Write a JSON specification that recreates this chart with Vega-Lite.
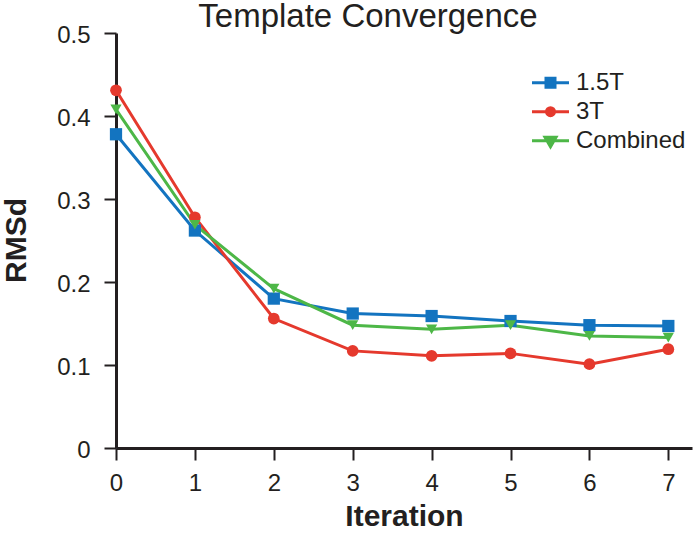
{
  "$schema": "https://vega.github.io/schema/vega-lite/v6.json",
  "width": 576,
  "height": 415,
  "autosize": "none",
  "padding": {"left": 116, "top": 33, "right": 4, "bottom": 85},
  "background": "white",
  "title": {
    "text": "Template Convergence",
    "font": "Liberation Sans",
    "fontSize": 33,
    "fontWeight": "normal",
    "color": "#231f20",
    "anchor": "middle",
    "frame": "group",
    "baseline": "alphabetic",
    "offset": 6,
    "dx": -36,
    "dy": 43
  },
  "data": {
    "values": [
      {"it": 0, "s": "1.5T", "v": 0.378},
      {"it": 1, "s": "1.5T", "v": 0.262},
      {"it": 2, "s": "1.5T", "v": 0.180},
      {"it": 3, "s": "1.5T", "v": 0.162},
      {"it": 4, "s": "1.5T", "v": 0.159},
      {"it": 5, "s": "1.5T", "v": 0.153},
      {"it": 6, "s": "1.5T", "v": 0.148},
      {"it": 7, "s": "1.5T", "v": 0.147},
      {"it": 0, "s": "3T", "v": 0.431},
      {"it": 1, "s": "3T", "v": 0.278},
      {"it": 2, "s": "3T", "v": 0.156},
      {"it": 3, "s": "3T", "v": 0.117},
      {"it": 4, "s": "3T", "v": 0.111},
      {"it": 5, "s": "3T", "v": 0.114},
      {"it": 6, "s": "3T", "v": 0.101},
      {"it": 7, "s": "3T", "v": 0.119},
      {"it": 0, "s": "Combined", "v": 0.408},
      {"it": 1, "s": "Combined", "v": 0.269},
      {"it": 2, "s": "Combined", "v": 0.192},
      {"it": 3, "s": "Combined", "v": 0.148},
      {"it": 4, "s": "Combined", "v": 0.143},
      {"it": 5, "s": "Combined", "v": 0.148},
      {"it": 6, "s": "Combined", "v": 0.135},
      {"it": 7, "s": "Combined", "v": 0.133}
    ]
  },
  "encoding": {
    "x": {
      "field": "it",
      "type": "quantitative",
      "scale": {"domain": [0, 7.3], "nice": false, "zero": false},
      "axis": {
        "title": "Iteration",
        "values": [0, 1, 2, 3, 4, 5, 6, 7],
        "format": "d",
        "grid": false,
        "domainColor": "#231f20",
        "domainWidth": 3,
        "tickColor": "#231f20",
        "tickWidth": 2,
        "tickSize": 12,
        "labelFont": "Liberation Sans",
        "labelFontSize": 24,
        "labelColor": "#231f20",
        "labelPadding": 11,
        "labelBaseline": "top",
        "labelFlush": false,
        "titleFont": "Liberation Sans",
        "titleFontSize": 30,
        "titleFontWeight": "bold",
        "titleColor": "#231f20",
        "titleX": 288,
        "titleY": 77,
        "titleAlign": "center",
        "titleBaseline": "alphabetic"
      }
    },
    "y": {
      "field": "v",
      "type": "quantitative",
      "scale": {"domain": [0, 0.5], "nice": false},
      "axis": {
        "title": "RMSd",
        "values": [0, 0.1, 0.2, 0.3, 0.4, 0.5],
        "format": "~g",
        "grid": false,
        "domainColor": "#231f20",
        "domainWidth": 3,
        "tickColor": "#231f20",
        "tickWidth": 2,
        "tickSize": 12,
        "labelFont": "Liberation Sans",
        "labelFontSize": 24,
        "labelColor": "#231f20",
        "labelPadding": 14,
        "labelBaseline": "middle",
        "labelOffset": 2,
        "labelFlush": false,
        "titleFont": "Liberation Sans",
        "titleFontSize": 30,
        "titleFontWeight": "bold",
        "titleColor": "#231f20",
        "titleAngle": -90,
        "titleX": -91,
        "titleY": 207,
        "titleAlign": "center",
        "titleBaseline": "alphabetic"
      }
    }
  },
  "layer": [
    {
      "mark": {"type": "line", "strokeWidth": 3},
      "encoding": {
        "color": {
          "field": "s",
          "type": "nominal",
          "scale": {"domain": ["1.5T", "3T", "Combined"], "range": ["#1374c0", "#e5392d", "#4db747"]},
          "legend": null
        }
      }
    },
    {
      "mark": {"type": "point", "filled": true, "opacity": 1},
      "encoding": {
        "color": {
          "field": "s",
          "type": "nominal",
          "scale": {"domain": ["1.5T", "3T", "Combined"], "range": ["#1374c0", "#e5392d", "#4db747"]},
          "legend": null
        },
        "shape": {
          "field": "s",
          "type": "nominal",
          "scale": {"domain": ["1.5T", "3T", "Combined"], "range": ["square", "circle", "triangle-down"]},
          "legend": null
        },
        "size": {
          "field": "s",
          "type": "nominal",
          "scale": {"domain": ["1.5T", "3T", "Combined"], "range": [150, 125, 210]},
          "legend": null
        }
      }
    },
    {
      "transform": [{"filter": "datum.v < 0"}],
      "mark": {"type": "point", "filled": true, "opacity": 1},
      "encoding": {
        "fill": {
          "field": "s",
          "type": "nominal",
          "scale": {"domain": ["1.5T", "3T", "Combined"], "range": ["#1374c0", "#e5392d", "#4db747"]},
          "legend": {"orient": "none", "legendX": 422.5, "legendY": 37.7, "title": null}
        },
        "stroke": {
          "field": "s",
          "type": "nominal",
          "scale": {"domain": ["1.5T", "3T", "Combined"], "range": ["#1374c0", "#e5392d", "#4db747"]},
          "legend": {"orient": "none", "legendX": 422.5, "legendY": 37.7, "title": null}
        },
        "shape": {
          "field": "s",
          "type": "nominal",
          "scale": {
            "domain": ["1.5T", "3T", "Combined"],
            "range": [
              "M-1.85,0H1.85M-0.45,-0.45H0.45V0.45H-0.45Z",
              "M-1.85,0H1.85M-0.4,0A0.4,0.4,0,1,1,0.4,0A0.4,0.4,0,1,1,-0.4,0Z",
              "M-1.85,0H1.85M-0.55,-0.35H0.55L0,0.6Z"
            ]
          },
          "legend": {"orient": "none", "legendX": 422.5, "legendY": 37.7, "title": null}
        }
      }
    }
  ],
  "resolve": {
    "scale": {"shape": "independent", "fill": "independent", "stroke": "independent", "color": "independent", "size": "independent"}
  },
  "config": {
    "view": {"stroke": null},
    "legend": {
      "symbolSize": 400,
      "symbolStrokeWidth": 3,
      "symbolOpacity": 1,
      "labelFont": "Liberation Sans",
      "labelFontSize": 24,
      "labelColor": "#231f20",
      "labelOffset": 13.5,
      "rowPadding": 5,
      "padding": 0,
      "orient": "none"
    }
  }
}
